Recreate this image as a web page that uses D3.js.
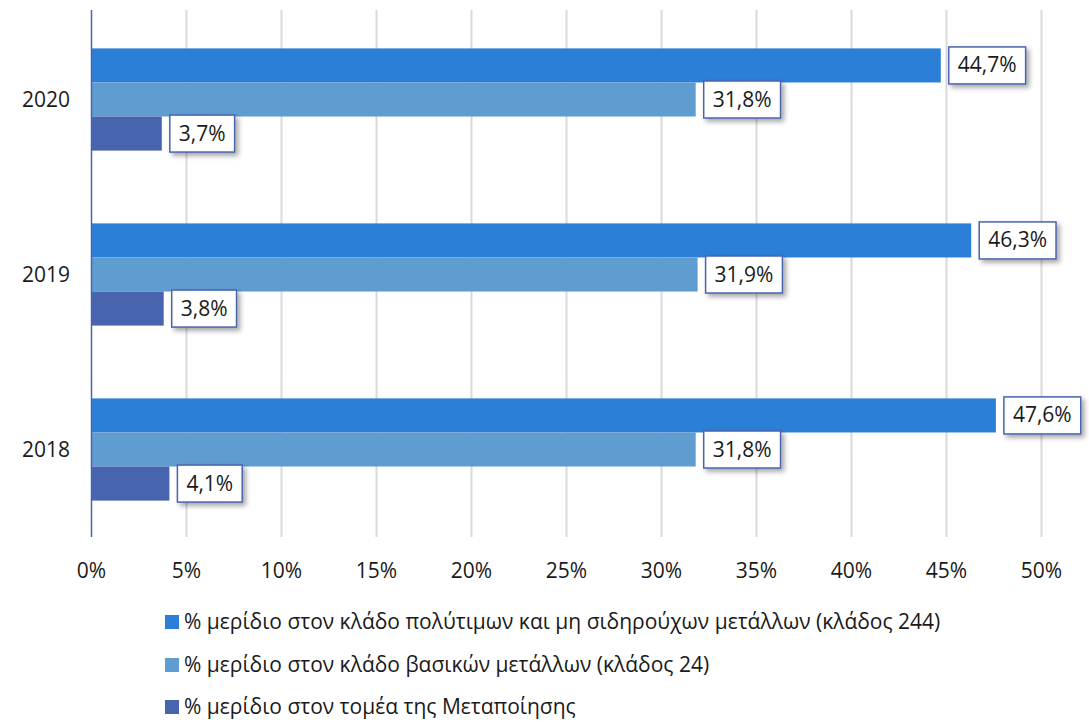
<!DOCTYPE html>
<html><head><meta charset="utf-8">
<script src="https://cdn.jsdelivr.net/npm/d3@7"></script>
<style>body{margin:0;background:#fff}svg{display:block}text{font-family:"Open Sans","Noto Sans",sans-serif;fill:#1a1a1a}</style>
</head><body><svg id="c" width="1089" height="722"></svg>
<script>
const years = ["2020","2019","2018"];
const seriesNames = [
  "% μερίδιο στον κλάδο πολύτιμων και μη σιδηρούχων μετάλλων (κλάδος 244)",
  "% μερίδιο στον κλάδο βασικών μετάλλων (κλάδος 24)",
  "% μερίδιο στον τομέα της Μεταποίησης"
];
const s244 = [44.7, 46.3, 47.6];
const s24 = [31.8, 31.9, 31.8];
const sManuf = [3.7, 3.8, 4.1];
const xTicks = [0,5,10,15,20,25,30,35,40,45,50];
const colors = ["#2B7FD7","#5F9DD1","#4964AE"];

const series = [s244, s24, sManuf];
const FS = "21px";
const svg = d3.select("#c");
const defs = svg.append("defs");
const f = defs.append("filter").attr("id","sh").attr("x","-20%").attr("y","-30%").attr("width","150%").attr("height","180%");
f.append("feDropShadow").attr("dx",3).attr("dy",3).attr("stdDeviation",2.5).attr("flood-color","#000").attr("flood-opacity",0.35);

const x = d3.scaleLinear().domain([0,50]).range([91.5,1041.5]);
const y = d3.scaleBand().domain(years).range([12,537]).paddingInner(0.416).paddingOuter(0.208);
const yi = d3.scaleBand().domain([0,1,2]).range([0,y.bandwidth()]);

// gridlines
svg.append("g").selectAll("line").data(xTicks.slice(1)).join("line")
  .attr("x1",d=>x(d)).attr("x2",d=>x(d)).attr("y1",10).attr("y2",537)
  .attr("stroke","#D9D9D9").attr("stroke-width",2);

// x tick labels
svg.append("g").selectAll("text").data(xTicks).join("text")
  .attr("x",d=>x(d)).attr("y",578).attr("text-anchor","middle")
  .style("font-size",FS).text(d=>d+"%");

// y labels
svg.append("g").selectAll("text").data(years).join("text")
  .attr("x",70).attr("y",d=>y(d)+y.bandwidth()/2+7).attr("text-anchor","end")
  .style("font-size",FS).text(d=>d);

// bars
const fmt = v => v.toFixed(1).replace(".",",")+"%";
series.forEach((s,si)=>{
  const g = svg.append("g");
  g.selectAll("rect").data(years).join("rect")
    .attr("x",x(0)).attr("y",d=>y(d)+yi(si)).attr("width",(d,i)=>x(s[i])-x(0)).attr("height",yi.bandwidth())
    .attr("fill",colors[si]);
});
// axis line
svg.append("line").attr("x1",x(0)).attr("x2",x(0)).attr("y1",10).attr("y2",537)
  .attr("stroke","#4964AE").attr("stroke-width",1.5);

// labels
series.forEach((s,si)=>{
  years.forEach((yr,i)=>{
    const cx = x(s[i])+8, cy = y(yr)+yi(si)+yi.bandwidth()/2;
    const g = svg.append("g");
    const t = g.append("text").attr("x",cx+9).attr("y",cy+7).style("font-size",FS).text(fmt(s[i]));
    const w = t.node().getComputedTextLength();
    g.insert("rect","text").attr("x",cx).attr("y",cy-18.5).attr("width",w+18).attr("height",37)
      .attr("fill","#fff").attr("stroke","#4964AE").attr("stroke-width",1.5).attr("filter","url(#sh)");
  });
});

// legend
const ly = [622,665,707];
seriesNames.forEach((n,i)=>{
  svg.append("rect").attr("x",165).attr("y",ly[i]-7).attr("width",14).attr("height",14).attr("fill",colors[i]);
  svg.append("text").attr("x",184).attr("y",ly[i]+7).style("font-size",FS).text(n);
});
</script></body></html>
